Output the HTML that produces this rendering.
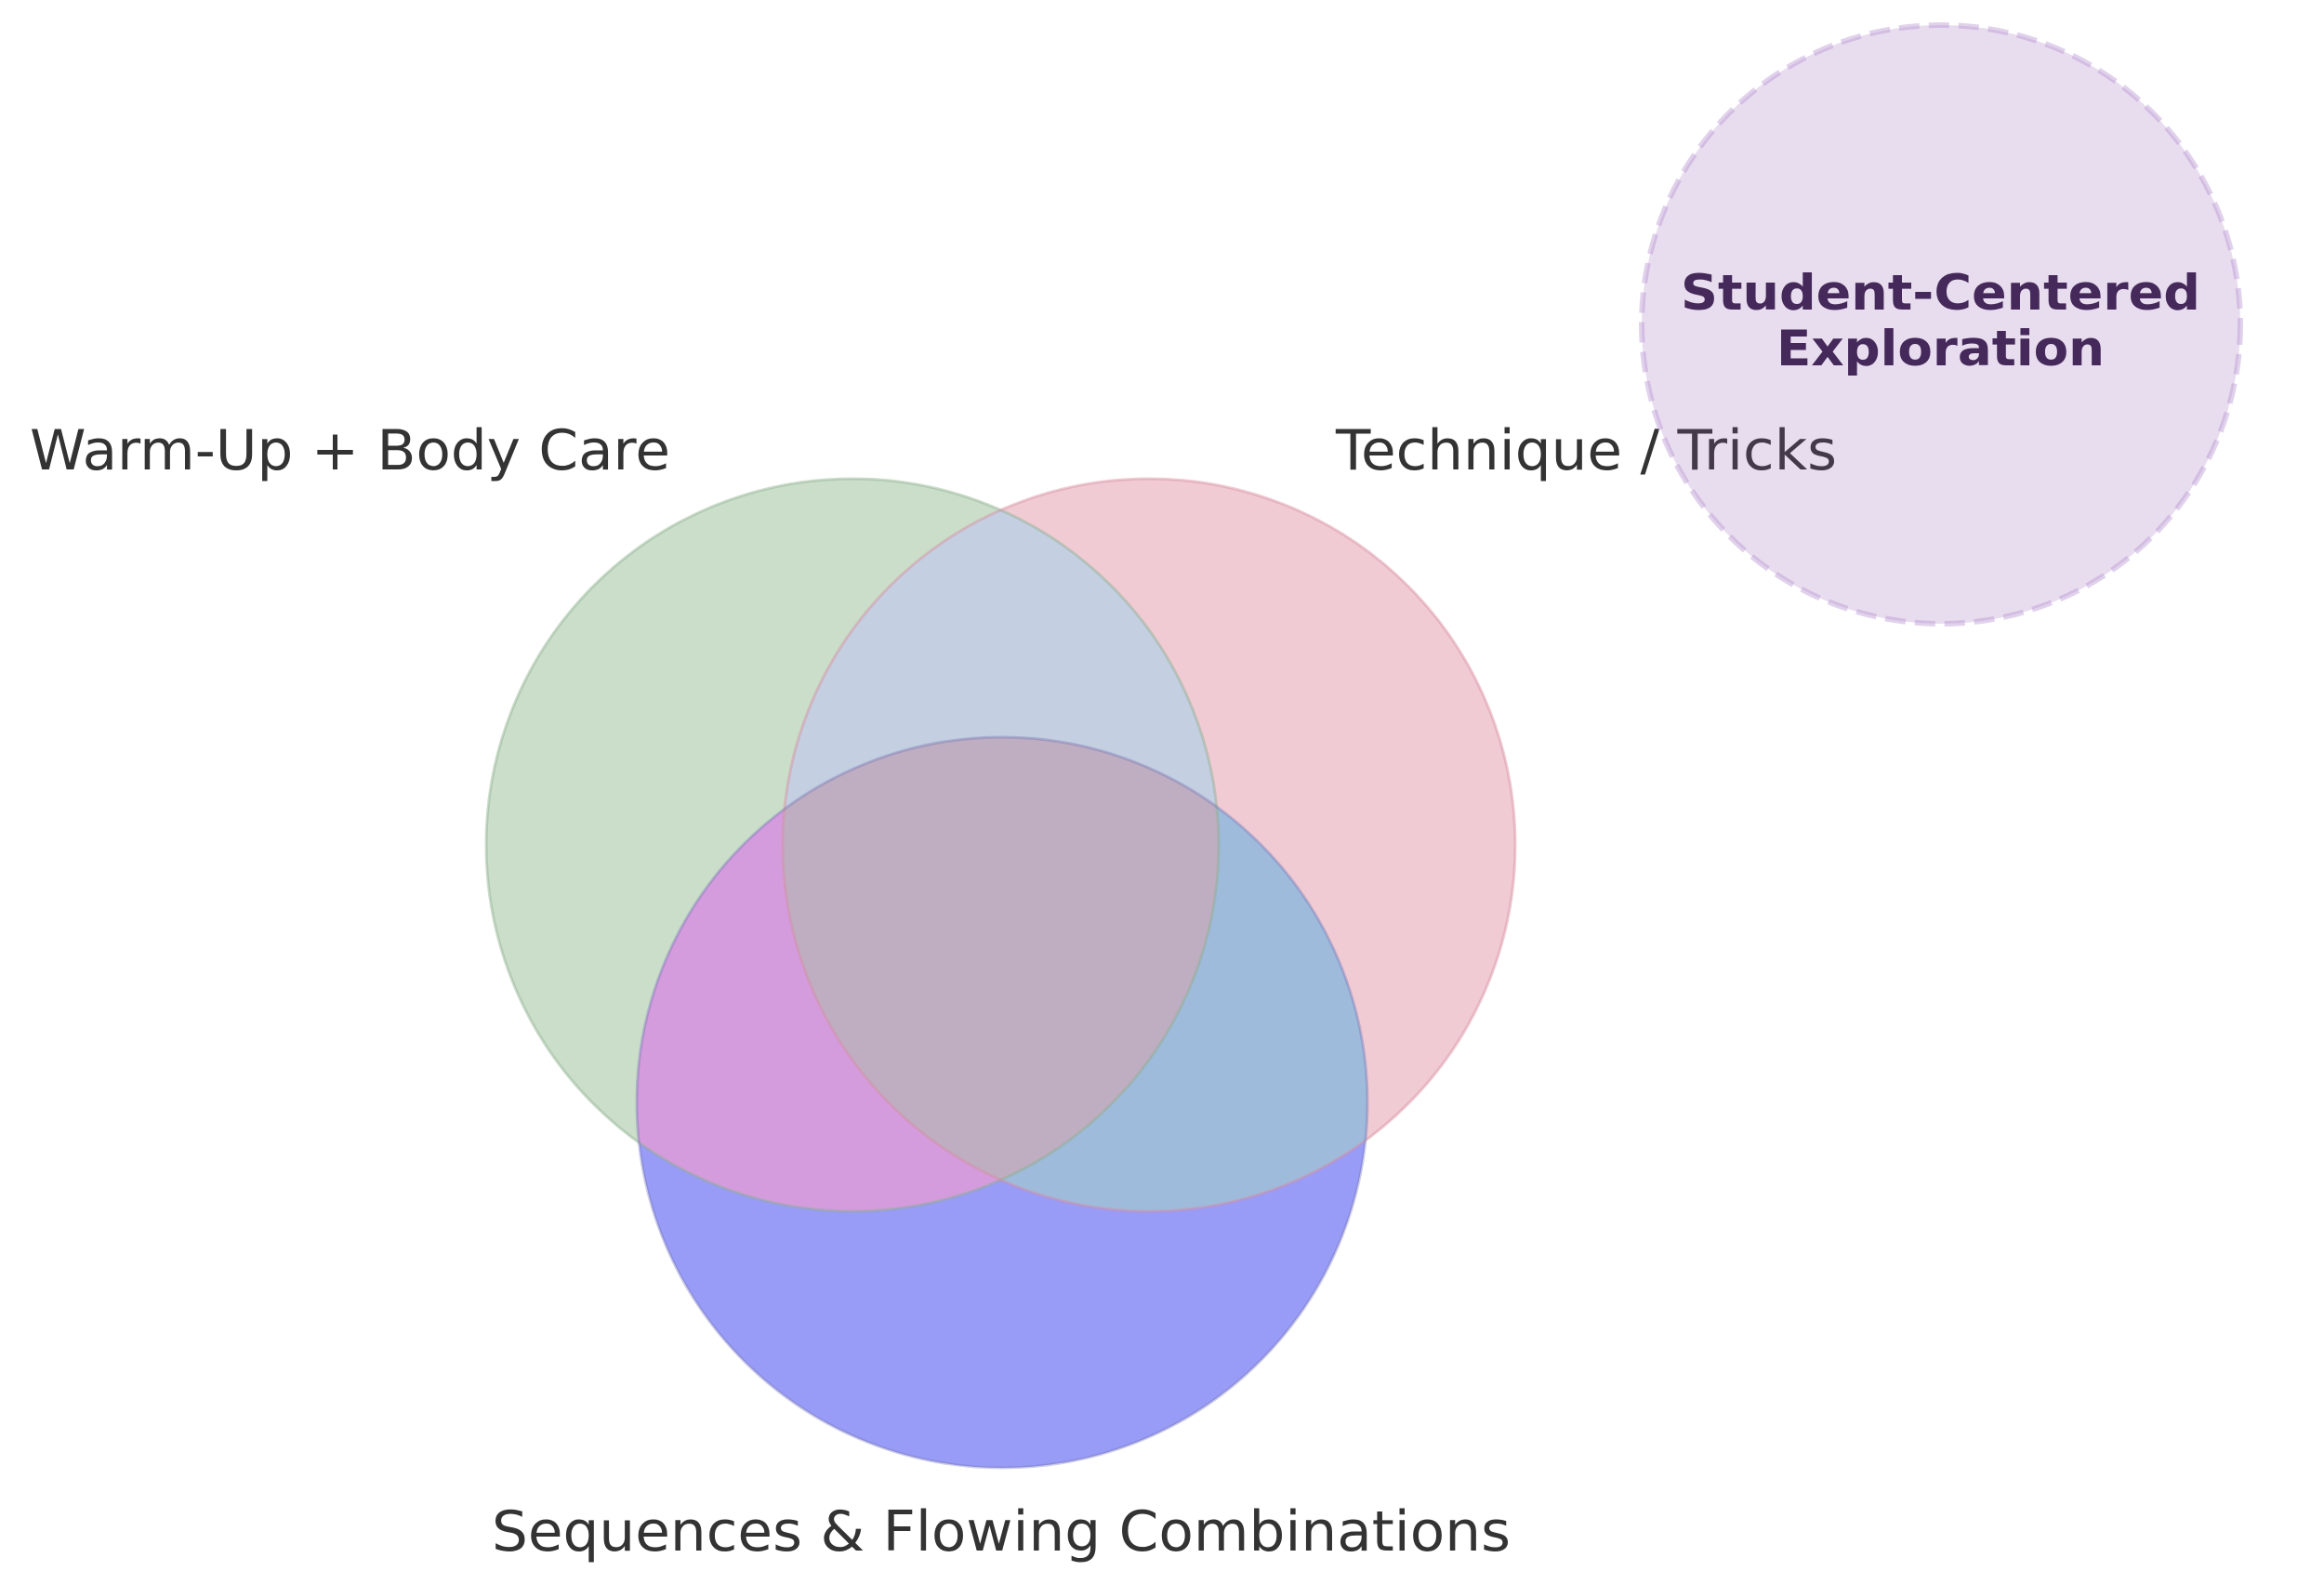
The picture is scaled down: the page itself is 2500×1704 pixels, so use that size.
<!DOCTYPE html>
<html><head><meta charset="utf-8"><style>html,body{margin:0;padding:0;background:#fff}svg{display:block}</style></head>
<body>
<svg width="2500" height="1704" viewBox="0 0 2500 1704" xmlns="http://www.w3.org/2000/svg" font-family="'DejaVu Sans','Liberation Sans',sans-serif">
<defs>
<clipPath id="cg"><circle cx="917" cy="909" r="394"/></clipPath>
<clipPath id="cp"><circle cx="1236" cy="909" r="394"/></clipPath>
</defs>
<rect width="2500" height="1704" fill="#fff"/>
<circle cx="917" cy="909" r="394" fill="#cadeca"/>
<circle cx="1236" cy="909" r="394" fill="#f0cbd4"/>
<circle cx="1078" cy="1186" r="393" fill="#989cf7"/>
<circle cx="1236" cy="909" r="394" fill="#c4cfe2" clip-path="url(#cg)"/>
<circle cx="1078" cy="1186" r="393" fill="#d49cdd" clip-path="url(#cg)"/>
<circle cx="1078" cy="1186" r="393" fill="#9fbbdc" clip-path="url(#cp)"/>
<g clip-path="url(#cg)"><circle cx="1078" cy="1186" r="393" fill="#bfaec2" clip-path="url(#cp)"/></g>
<circle cx="917" cy="909" r="394" fill="none" stroke="#8fb08f" stroke-opacity="0.45" stroke-width="3"/>
<circle cx="1236" cy="909" r="394" fill="none" stroke="#d88ea0" stroke-opacity="0.45" stroke-width="3"/>
<circle cx="1078" cy="1186" r="393" fill="none" stroke="#6f6fb0" stroke-opacity="0.35" stroke-width="3"/>
<text x="32" y="505" font-size="60" fill="#333" textLength="689" lengthAdjust="spacingAndGlyphs">Warm-Up + Body Care</text>
<text x="1437" y="505" font-size="60" fill="#333" textLength="539" lengthAdjust="spacingAndGlyphs">Technique / Tricks</text>
<text x="529" y="1668" font-size="60" fill="#333" textLength="1096" lengthAdjust="spacingAndGlyphs">Sequences &amp; Flowing Combinations</text>
<circle cx="2088" cy="349" r="322" fill="#8c55af" fill-opacity="0.2" stroke="#b48fd0" stroke-opacity="0.4" stroke-width="6" stroke-dasharray="22 10"/>
<text x="1808" y="333" font-size="53" font-weight="bold" fill="#45295a" textLength="559" lengthAdjust="spacingAndGlyphs">Student-Centered</text>
<text x="1911" y="393" font-size="53" font-weight="bold" fill="#45295a" textLength="353" lengthAdjust="spacingAndGlyphs">Exploration</text>
</svg>
</body></html>
